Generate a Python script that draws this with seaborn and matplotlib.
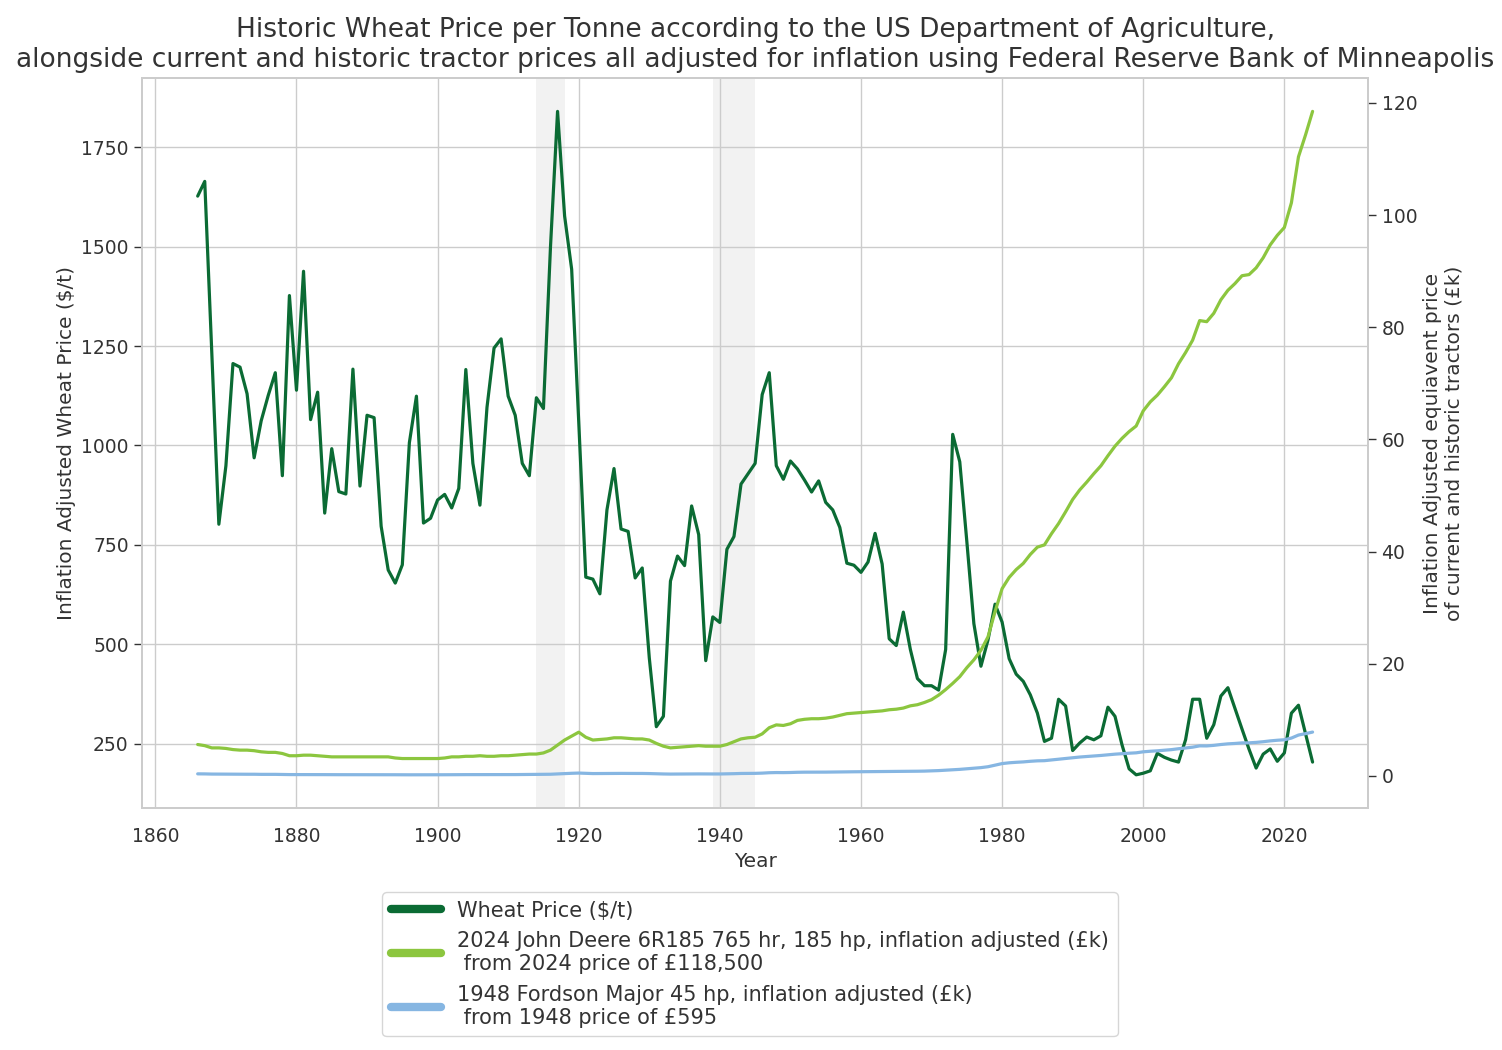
import numpy as np
import pandas as pd
import seaborn as sns
import matplotlib.pyplot as plt
from matplotlib.lines import Line2D

# ---- data ----
years = list(range(1866, 2025))

wheat_price = [
    1627, 1664, 1230, 802, 949, 1206, 1197, 1130, 969, 1062,
    1126, 1183, 924, 1377, 1139, 1438, 1065, 1134, 830, 992,
    884, 878, 1192, 898, 1076, 1070, 797, 687, 654, 700,
    1007, 1124, 805, 817, 863, 877, 843, 892, 1191, 955,
    850, 1096, 1245, 1268, 1124, 1076, 955, 924, 1120, 1093,
    1500, 1840, 1577, 1443, 1060, 669, 664, 627, 838, 942,
    790, 784, 667, 692, 466, 293, 319, 659, 722, 698,
    848, 776, 459, 569, 555, 739, 771, 903, 929, 955,
    1128, 1183, 949, 915, 961, 941, 913, 883, 911, 857,
    838, 794, 704, 699, 681, 707, 779, 702, 514, 497,
    581, 487, 414, 396, 396, 385, 487, 1028, 959, 759,
    552, 445, 511, 601, 556, 464, 425, 407, 373, 327,
    256, 264, 362, 345, 233, 252, 267, 260, 270, 342,
    319, 247, 187, 172, 176, 182, 226, 216, 209, 204,
    260, 362, 362, 264, 298, 370, 391, 339, 287, 236,
    189, 224, 237, 206, 227, 327, 347, 275, 204,
]

john_deere_k = [
    5.6, 5.4, 5.0, 5.0, 4.9, 4.7, 4.6, 4.6, 4.5, 4.3,
    4.2, 4.2, 4.0, 3.6, 3.6, 3.7, 3.7, 3.6, 3.5, 3.4,
    3.4, 3.4, 3.4, 3.4, 3.4, 3.4, 3.4, 3.4, 3.2, 3.1,
    3.1, 3.1, 3.1, 3.1, 3.1, 3.2, 3.4, 3.4, 3.5, 3.5,
    3.6, 3.5, 3.5, 3.6, 3.6, 3.7, 3.8, 3.9, 3.9, 4.1,
    4.6, 5.5, 6.4, 7.1, 7.8, 6.9, 6.4, 6.5, 6.6, 6.8,
    6.8, 6.7, 6.6, 6.6, 6.4, 5.8, 5.3, 5.0, 5.1, 5.2,
    5.3, 5.4, 5.3, 5.3, 5.3, 5.6, 6.1, 6.6, 6.8, 6.9,
    7.5, 8.6, 9.1, 9.0, 9.3, 9.9, 10.1, 10.2, 10.2, 10.3,
    10.5, 10.8, 11.1, 11.2, 11.3, 11.4, 11.5, 11.6, 11.8, 11.9,
    12.1, 12.5, 12.7, 13.1, 13.6, 14.4, 15.4, 16.5, 17.7, 19.3,
    20.7, 22.4, 24.8, 29.3, 33.4, 35.4, 36.8, 37.9, 39.5, 40.8,
    41.2, 43.2, 45.0, 47.1, 49.3, 51.0, 52.4, 53.9, 55.3, 57.1,
    58.8, 60.2, 61.4, 62.4, 65.1, 66.7, 67.9, 69.4, 71.0, 73.5,
    75.5, 77.7, 81.2, 81.0, 82.5, 84.9, 86.6, 87.8, 89.2, 89.4,
    90.6, 92.4, 94.7, 96.4, 97.8, 102.2, 110.4, 114.3, 118.5,
]

fordson_k = [
    0.37, 0.36, 0.33, 0.33, 0.32, 0.31, 0.30, 0.30, 0.30, 0.28,
    0.28, 0.28, 0.26, 0.24, 0.24, 0.24, 0.24, 0.24, 0.23, 0.22,
    0.22, 0.22, 0.22, 0.22, 0.22, 0.22, 0.22, 0.22, 0.21, 0.20,
    0.20, 0.20, 0.20, 0.20, 0.20, 0.21, 0.22, 0.22, 0.23, 0.23,
    0.24, 0.23, 0.23, 0.24, 0.24, 0.24, 0.25, 0.26, 0.26, 0.27,
    0.30, 0.36, 0.42, 0.47, 0.51, 0.46, 0.42, 0.43, 0.44, 0.45,
    0.45, 0.44, 0.44, 0.44, 0.42, 0.38, 0.35, 0.33, 0.34, 0.34,
    0.35, 0.36, 0.35, 0.35, 0.35, 0.37, 0.40, 0.44, 0.45, 0.46,
    0.50, 0.57, 0.60, 0.59, 0.61, 0.65, 0.67, 0.67, 0.67, 0.68,
    0.69, 0.71, 0.73, 0.74, 0.75, 0.75, 0.76, 0.77, 0.78, 0.79,
    0.80, 0.83, 0.84, 0.86, 0.90, 0.95, 1.02, 1.09, 1.17, 1.27,
    1.37, 1.48, 1.64, 1.93, 2.20, 2.34, 2.43, 2.50, 2.61, 2.69,
    2.72, 2.85, 2.97, 3.11, 3.25, 3.37, 3.46, 3.56, 3.65, 3.77,
    3.88, 3.97, 4.05, 4.12, 4.30, 4.40, 4.48, 4.58, 4.69, 4.85,
    4.98, 5.13, 5.36, 5.35, 5.45, 5.60, 5.72, 5.79, 5.89, 5.90,
    5.98, 6.10, 6.25, 6.36, 6.45, 6.75, 7.29, 7.54, 7.82,
]

war_periods = [(1914, 1918), (1939, 1945)]

labels = [
    "Wheat Price ($/t)",
    "2024 John Deere 6R185 765 hr, 185 hp, inflation adjusted (£k)\n from 2024 price of £118,500",
    "1948 Fordson Major 45 hp, inflation adjusted (£k)\n from 1948 price of £595",
]
colors = ["#0b6b34", "#8cc63f", "#86b6e2"]

df = pd.DataFrame({"Year": years, "wheat": wheat_price,
                   "jd": john_deere_k, "fordson": fordson_k})

sns.set_theme(style="whitegrid")
plt.rcParams["font.family"] = ["DejaVu Sans"]
plt.rcParams["text.color"] = "#333333"
plt.rcParams["axes.labelcolor"] = "#333333"
plt.rcParams["xtick.color"] = "#333333"
plt.rcParams["ytick.color"] = "#333333"

fig = plt.figure(figsize=(15.02, 10.5), dpi=100)
ax = fig.add_axes([0.0945, 0.2305, 0.8165, 0.695])

for start, end in war_periods:
    ax.axvspan(start, end, color="#f2f2f2", zorder=0, lw=0)

sns.lineplot(data=df, x="Year", y="wheat", ax=ax, color=colors[0], lw=2.3)
ax.set_ylabel("Inflation Adjusted Wheat Price ($/t)", fontsize=14.5)
ax.set_xlabel("Year", fontsize=14.5)
ax.set_yticks([250, 500, 750, 1000, 1250, 1500, 1750])
ax.tick_params(axis="y", left=True, length=6, width=1, color="#333333", labelsize=13.5)
ax.tick_params(axis="x", bottom=False, labelsize=13.5, pad=8)
for s in ax.spines.values():
    s.set_color("#cccccc")

ax2 = ax.twinx()
sns.lineplot(data=df, x="Year", y="jd", ax=ax2, color=colors[1], lw=2.3)
sns.lineplot(data=df, x="Year", y="fordson", ax=ax2, color=colors[2], lw=2.3)
ax2.grid(False)
ax2.set_yticks([0, 20, 40, 60, 80, 100, 120])
ax2.set_ylabel("Inflation Adjusted equiavent price\nof current and historic tractors (£k)",
               fontsize=14.5)
ax2.tick_params(axis="y", right=True, length=6, width=1, color="#333333", labelsize=13.5)
for s in ax2.spines.values():
    s.set_color("#cccccc")

ax.set_title("Historic Wheat Price per Tonne according to the US Department of Agriculture,\n"
             "alongside current and historic tractor prices all adjusted for inflation using "
             "Federal Reserve Bank of Minneapolis", fontsize=19, pad=8)

handles = [Line2D([0], [0], color=c, lw=6, solid_capstyle="round") for c in colors]
leg = fig.legend(handles, labels, loc="upper center", bbox_to_anchor=(0.4993, 0.16),
                 fontsize=15, frameon=True, handlelength=2.4, labelspacing=0.5)
leg.get_frame().set_edgecolor("#cccccc")

fig.savefig("out.png", dpi=100)
